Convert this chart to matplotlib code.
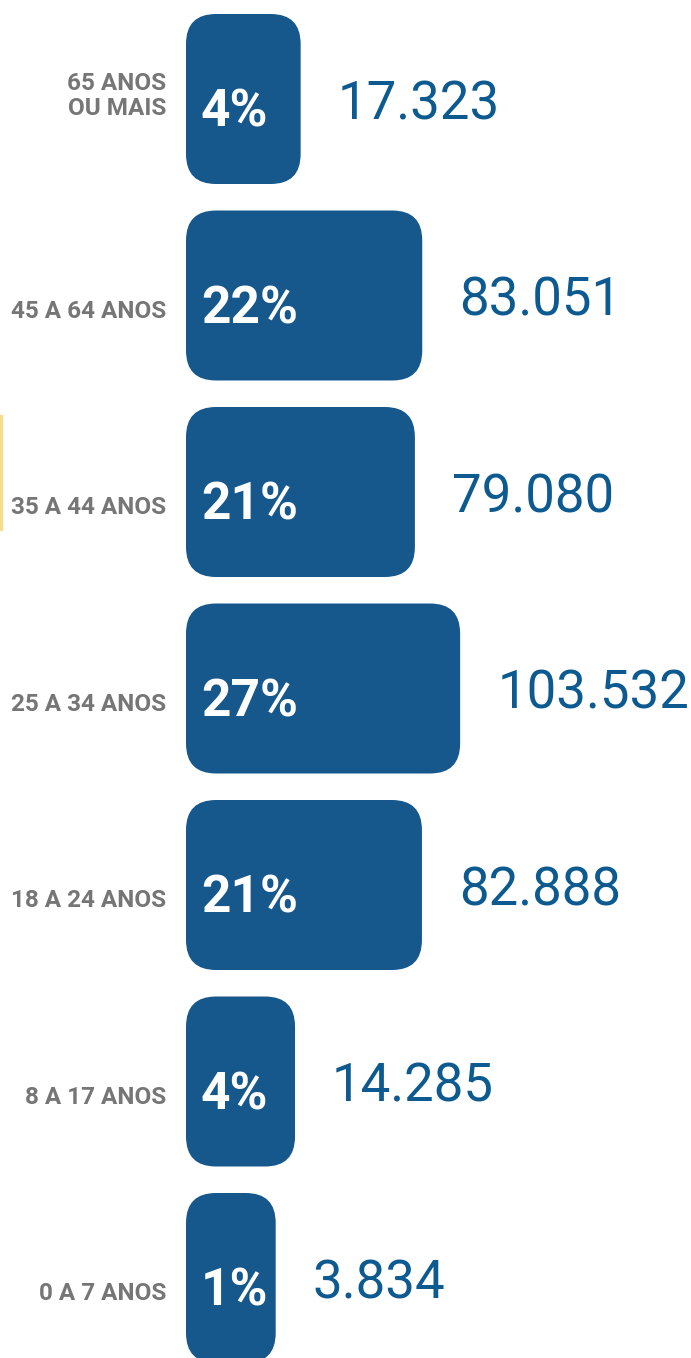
import matplotlib
matplotlib.use('Agg')
import matplotlib.pyplot as plt
from matplotlib.patches import FancyBboxPatch, Rectangle

plt.rcParams['font.family'] = ['Roboto', 'DejaVu Sans']

# dados (de cima para baixo)
faixas = ['65 ANOS\nOU MAIS', '45 A 64 ANOS', '35 A 44 ANOS', '25 A 34 ANOS',
          '18 A 24 ANOS', '8 A 17 ANOS', '0 A 7 ANOS']
pessoas = [17323, 83051, 79080, 103532, 82888, 14285, 3834]
percentual = [4, 22, 21, 27, 21, 4, 1]

azul = '#16578C'
azul_txt = '#0C5A8F'
cinza = '#767676'

W, H = 691, 1358
fig = plt.figure(figsize=(W / 100, H / 100), dpi=100)
ax = fig.add_axes([0, 0, 1, 1])

# escala: pixels por unidade em x e em y
px_x = 0.00185          # px por pessoa
base = -44650           # inicio das barras (largura minima)
x0_px = 186 - base * px_x
u = 1 / px_x            # pessoas por px
pitch = 196.5           # px entre barras
c0 = 99                 # centro da primeira barra (px)
ax.set_xlim(-x0_px * u, (W - x0_px) * u)
ax.set_ylim((H - c0) / pitch, -c0 / pitch)
ax.axis('off')

alt = 170 / pitch
raio = 30 * u
aspecto = (1 / pitch) / u

for i, (fx, v, p) in enumerate(zip(faixas, pessoas, percentual)):
    box = FancyBboxPatch((base, i - alt / 2), v - base, alt,
                         boxstyle=f'round,pad=0,rounding_size={raio}',
                         mutation_aspect=aspecto, fc=azul, ec='none')
    ax.add_patch(box)
    ax.text(base + 15 * u, i + 14 / pitch, f'{p}%', color='white', fontsize=37,
            fontweight='bold', ha='left', va='center')
    dl = -3 / pitch if '\n' in fx else 16 / pitch
    ax.text(base - 20 * u, i + dl, fx, color=cinza, fontsize=17.5,
            fontweight='bold', ha='right', va='center', linespacing=1.15)
    ax.text(v + 37 * u, i + 6 / pitch, f'{v:,}'.replace(',', '.'),
            color=azul_txt, fontsize=38, ha='left', va='center')

# faixa amarela cortada na borda esquerda
fig.patches.append(Rectangle((0, 1 - 530 / H), 2 / W, 115 / H,
                             transform=fig.transFigure, color='#F6DC8C'))

fig.savefig('out.png', dpi=100, facecolor='white')
